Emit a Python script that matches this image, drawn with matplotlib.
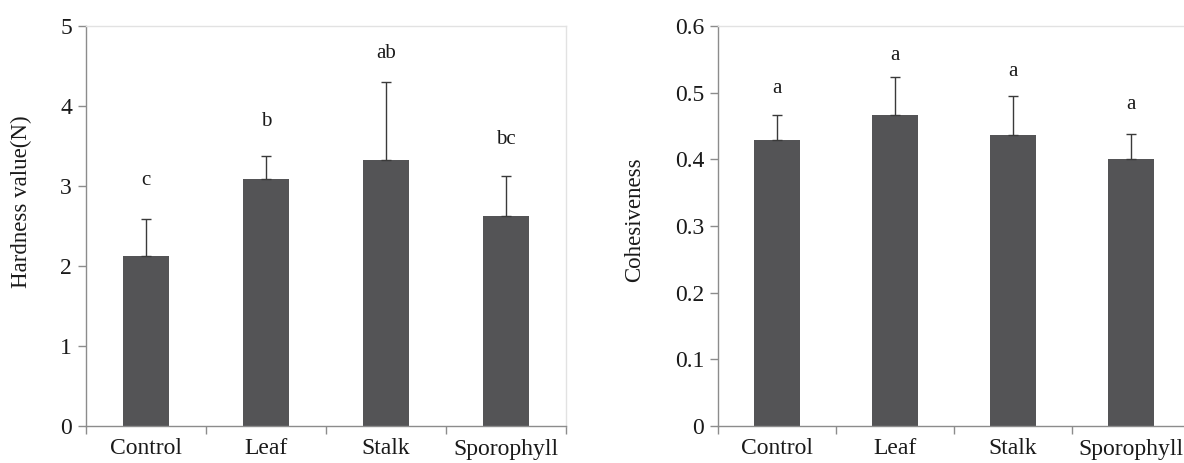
import numpy as np
import matplotlib.pyplot as plt
from matplotlib.ticker import FixedLocator, NullFormatter

plt.rcParams['font.family'] = ['Liberation Serif', 'DejaVu Serif']

# data
groups = ['Control', 'Leaf', 'Stalk', 'Sporophyll']

hardness = [2.12, 3.09, 3.32, 2.63]
hardness_err = [0.47, 0.285, 0.98, 0.50]
hardness_letters = ['c', 'b', 'ab', 'bc']
hardness_letter_y = [3.07, 3.80, 4.66, 3.58]

cohesion = [0.429, 0.466, 0.437, 0.401]
cohesion_err = [0.038, 0.058, 0.058, 0.037]
cohesion_letters = ['a', 'a', 'a', 'a']
cohesion_letter_y = [0.506, 0.556, 0.532, 0.482]

bar_color = '#545456'
spine_color = '#8c8c8c'
border_color = '#e2e2e2'


def draw_panel(ax, values, errs, letters, letter_y, ylim, yticks, ylabel, ytick_fmt):
    x = np.arange(len(groups))
    ax.bar(x, values, width=0.39, color=bar_color, zorder=2)
    ax.errorbar(x, values, yerr=[np.zeros(len(errs)), errs], fmt='none',
                ecolor='#3a3a3a', elinewidth=1.0, capsize=3.5, capthick=1.0, zorder=3)
    for xi, lab, ly in zip(x, letters, letter_y):
        ax.text(xi, ly, lab, ha='center', va='center', fontsize=15, color='#1a1a1a')

    ax.set_xlim(-0.5, len(groups) - 0.5)
    ax.set_ylim(*ylim)
    ax.set_yticks(yticks)
    ax.set_yticklabels([ytick_fmt(v) for v in yticks], fontsize=17, color='#1a1a1a')

    # category labels centred, ticks on the category boundaries
    ax.set_xticks(x)
    ax.set_xticklabels(groups, fontsize=17, color='#1a1a1a')
    ax.tick_params(axis='x', which='major', length=0, pad=9)
    ax.xaxis.set_minor_locator(FixedLocator(np.arange(-0.5, len(groups), 1.0)))
    ax.xaxis.set_minor_formatter(NullFormatter())
    ax.tick_params(axis='x', which='minor', length=6, width=1.0, color=spine_color, direction='out')
    ax.tick_params(axis='y', length=6, width=1.0, color=spine_color, direction='out', pad=4)

    ax.set_ylabel(ylabel, fontsize=16.5, color='#1a1a1a')

    for side in ['left', 'bottom']:
        ax.spines[side].set_color(spine_color)
        ax.spines[side].set_linewidth(1.0)
    for side in ['top', 'right']:
        ax.spines[side].set_color(border_color)
        ax.spines[side].set_linewidth(1.0)


fig = plt.figure(figsize=(11.84, 4.63), dpi=100)

ax1 = fig.add_axes([86 / 1184, 37 / 463, 480 / 1184, 400 / 463])
draw_panel(ax1, hardness, hardness_err, hardness_letters, hardness_letter_y,
           (0, 5), [0, 1, 2, 3, 4, 5], 'Hardness value(N)', lambda v: f'{v:g}')
ax1.yaxis.set_label_coords(-0.112, 0.56)

ax2 = fig.add_axes([718 / 1184, 37 / 463, 472 / 1184, 400 / 463])
draw_panel(ax2, cohesion, cohesion_err, cohesion_letters, cohesion_letter_y,
           (0, 0.6), [0, 0.1, 0.2, 0.3, 0.4, 0.5, 0.6], 'Cohesiveness',
           lambda v: '0' if v == 0 else f'{v:.1f}')
ax2.yaxis.set_label_coords(-0.155, 0.516)

fig.savefig('out.png', dpi=100)
